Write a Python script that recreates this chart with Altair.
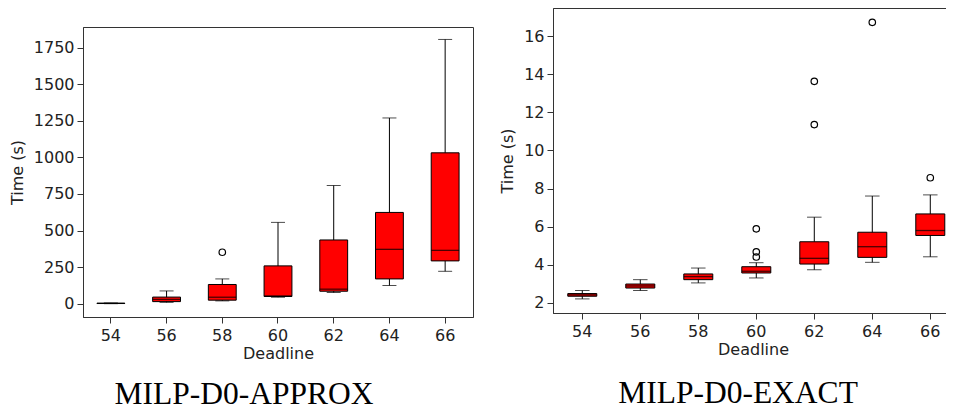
import altair as alt
import pandas as pd

deadlines = [54, 56, 58, 60, 62, 64, 66]

# MILP-D0-APPROX (seconds)
approx_lo = [1, 10, 20, 45, 77, 125, 222]
approx_q1 = [2, 15, 25, 50, 86, 170, 293]
approx_med = [3, 30, 45, 54, 100, 372, 365]
approx_q3 = [4, 46, 132, 259, 436, 624, 1031]
approx_hi = [6, 88, 170, 556, 808, 1269, 1805]
approx_out_x = [58]
approx_out_y = [352]

# MILP-D0-EXACT (seconds)
exact_lo = [2.21, 2.65, 3.05, 3.31, 3.74, 4.13, 4.42]
exact_q1 = [2.35, 2.78, 3.22, 3.57, 4.04, 4.39, 5.54]
exact_med = [2.42, 2.89, 3.38, 3.66, 4.34, 4.95, 5.80]
exact_q3 = [2.49, 2.99, 3.52, 3.90, 5.21, 5.71, 6.67]
exact_hi = [2.65, 3.22, 3.83, 4.11, 6.50, 7.61, 7.67]
exact_out_x = [60, 60, 60, 62, 62, 64, 66]
exact_out_y = [5.89, 4.68, 4.41, 13.63, 11.36, 16.73, 8.57]

approx_ticks = [0, 250, 500, 750, 1000, 1250, 1500, 1750]
exact_ticks = [2, 4, 6, 8, 10, 12, 14, 16]


def panel(lo, q1, med, q3, hi, ox, oy, width, height, ydomain, yticks,
          xscale, box_w, cap_w, caption, cap_dx, cap_offset):
    df = pd.DataFrame(dict(deadline=deadlines, lo=lo, q1=q1, med=med, q3=q3, hi=hi))
    dfo = pd.DataFrame(dict(deadline=ox, t=oy))
    xaxis = alt.Axis(title="Deadline", labelAngle=0)
    yscale = alt.Scale(domain=ydomain, nice=False, zero=False)
    yaxis = alt.Axis(title="Time (s)", values=yticks, format="d")

    def X():
        return alt.X("deadline:O", scale=xscale, axis=xaxis)

    def Y(f):
        return alt.Y(f + ":Q", scale=yscale, axis=yaxis, title="Time (s)")

    base = alt.Chart(df)
    whisk = base.mark_rule(color="black", strokeWidth=1).encode(
        x=X(), y=Y("lo"), y2=alt.Y2("hi:Q", title="Time (s)"))
    box = base.mark_bar(fill="#ff0000", stroke="black", strokeWidth=1).encode(
        x=X(), y=Y("q1"), y2=alt.Y2("q3:Q", title="Time (s)"))
    medt = base.mark_tick(color="black", size=box_w, thickness=1.3).encode(
        x=X(), y=Y("med"))
    caplo = base.mark_tick(color="black", size=cap_w, thickness=1).encode(
        x=X(), y=Y("lo"))
    caphi = base.mark_tick(color="black", size=cap_w, thickness=1).encode(
        x=X(), y=Y("hi"))
    outl = alt.Chart(dfo).mark_point(
        shape="circle", filled=False, color="black", size=42, strokeWidth=1.2,
        opacity=1).encode(x=X(), y=Y("t"))
    return alt.layer(whisk, box, medt, caplo, caphi, outl).properties(
        width=width, height=height,
        title=alt.TitleParams(caption, orient="bottom", font="Liberation Serif",
                              fontSize=31.5, fontWeight="normal", color="black",
                              offset=cap_offset, dx=cap_dx))


left_scale = alt.Scale(domain=deadlines, paddingInner=0.5, paddingOuter=0.25,
                       round=False)
right_scale = alt.Scale(domain=deadlines, paddingInner=0.5, paddingOuter=0.1983,
                        align=0.643, round=False)

left = panel(approx_lo, approx_q1, approx_med, approx_q3, approx_hi,
             approx_out_x, approx_out_y, 390, 290, [-90, 1890], approx_ticks,
             left_scale, 27.9, 14, "MILP-D0-APPROX", -34, 18)
right = panel(exact_lo, exact_q1, exact_med, exact_q3, exact_hi,
              exact_out_x, exact_out_y, 400, 305, [1.47, 17.48], exact_ticks,
              right_scale, 29, 14.5, "MILP-D0-EXACT", -15, 21)

spacer = alt.Chart(pd.DataFrame({"v": [0]})).mark_point(opacity=0, size=0).encode(
    x=alt.value(0), y=alt.value(0)).properties(
    width=1, height=1, view=alt.ViewBackground(stroke="transparent"))

left_col = alt.vconcat(spacer, left, spacing=16)

chart = alt.hconcat(left_col, right, spacing=25).properties(
    padding={"left": 0, "top": -1, "right": -8, "bottom": 0}
).configure_view(stroke="#333", strokeWidth=1).configure_axis(
    labelFont="DejaVu Sans", labelFontSize=16, labelColor="#222",
    titleFont="DejaVu Sans", titleFontSize=16, titleFontWeight="normal",
    titleColor="#222", domainColor="#333", tickColor="#333", tickSize=6,
    grid=False, labelPadding=3
).configure_axisX(labelPadding=4, titlePadding=2).configure_axisY(
    titlePadding=8)

chart.save("out.html", embed_options={"renderer": "svg", "actions": False})
